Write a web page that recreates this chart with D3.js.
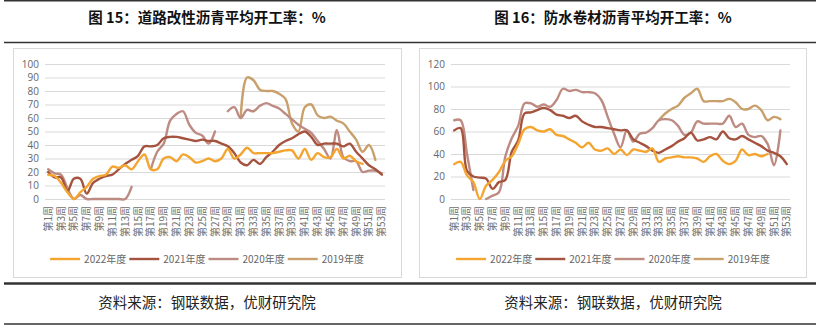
<!DOCTYPE html>
<html>
<head>
<meta charset="utf-8">
<script src="https://cdn.jsdelivr.net/npm/d3@7"></script>
<style>
  body { margin: 0; background: #fff; }
  svg text { font-family: "Noto Sans CJK SC", "Noto Sans", sans-serif; }
</style>
</head>
<body>
<div id="chart"></div>
<script>
// ---------------- Data ---------------- //

const weeks = d3.range(1, 54).map(i => "第" + i + "周");
const seriesNames = ["2022年度", "2021年度", "2020年度", "2019年度"];
const seriesColors = ["#F3A530", "#A5533F", "#BD8B82", "#C9A06B"];

// Fig. 15: road modified asphalt operating rate (%)
const road2022 = [18, 17, 12, 5, 0, 5, 9, 15, 17, 18, 24, 23, 25, 22, 28, 33, 22, 22, 30, 31,
  28, 33, 31, 27, 28, 30, 28, 30, 37, 30, 33, 38, 34, 34, 34, 34, 35, 36, 36, 30,
  37, 29, 34, 31, 31, 37, 30, 32, 28, 26, null, null, null];
const road2021 = [20, 16, 16, 6, 15, 15, 4, 12, 15, 17, 18, 22, 26, 29, 32, 39, 39, 40, 45, 46,
  46, 45, 44, 43, 44, 43, 43, 41, 39, 34, 27, 25, 29, 26, 31, 35, 40, 43, 45, 48,
  50, 46, 40, 41, 41, 41, 39, 41, 35, 30, 25, 22, 18];
const road2020 = [22, 19, 18, 8, 0, 3, 0, 0, 0, 0, 0, 0, 0, 9, null, null, 22, 35, 41, 58,
  63, 65, 55, 49, 47, 41, 50, null, 65, 68, 60, 66, 65, 69, 71, 69, 67, 63, 59, 55,
  52, 49, 43, 37, 30, 51, 31, 28, 28, 20, 21, 21, 19];
const road2019 = [null, null, null, null, null, null, null, null, null, null, null, null, null, null, null, null, null, null, null, null,
  null, null, null, null, null, null, null, null, null, null, 60, 90, 88, 81, 80, 80, 78, 74, 56, 50,
  68, 70, 62, 60, 61, 58, 56, 50, 44, 35, 40, 29, null];
const roadTicks = [0, 10, 20, 30, 40, 50, 60, 70, 80, 90, 100];

// Fig. 16: waterproofing membrane asphalt operating rate (%)
const water2022 = [31, 33, 21, 15, 0, 12, 17, 24, 34, 38, 49, 62, 64, 61, 60, 62, 57, 56, 53, 50,
  46, 50, 44, 43, 45, 40, 44, 39, 44, 43, 42, 45, 33, 36, 37, 38, 37, 37, 36, 33,
  38, 40, 34, 31, 34, 44, 39, 40, 38, 40, null, null, null];
const water2021 = [61, 63, 25, 20, 19, 18, 9, 15, 17, 42, 52, 76, 77, 79, 81, 79, 75, 74, 72, 74,
  69, 66, 64, 64, 63, 62, 61, 61, 53, 50, 47, 43, 41, 44, 47, 51, 54, 59, 52, 53,
  55, 53, 60, 54, 53, 56, 53, 50, 47, 43, 41, 38, 31];
const water2020 = [70, 70, 40, 8, null, 0, 3, 6, 38, 54, 65, 85, 85, 82, 84, 82, 88, 98, 96, 97,
  95, 95, 94, 88, 73, 58, 46, 61, 51, 58, 59, 63, 70, 71, 70, 65, 57, 59, 69, 67,
  67, 67, 67, 74, 64, 67, 57, 55, 56, 49, 30, 61, null];
const water2019 = [null, null, null, null, null, null, null, null, null, null, null, null, null, null, null, null, null, null, null, null,
  null, null, null, null, null, null, null, null, null, null, null, null, 70, 76, 80, 83, 90, 94, 98, 87,
  87, 87, 87, 89, 86, 80, 80, 83, 79, 70, 73, 71, null];
const waterTicks = [0, 20, 40, 60, 80, 100, 120];

const sourceText = "资料来源：钢联数据，优财研究院";

// ---------------- Layout ---------------- //

const width = 824, height = 325;

const panels = [
  {
    title: "图 15：道路改性沥青平均开工率：%",
    center: 207,
    box: [13, 48, 401, 277],
    xRange: [45, 385],
    ticks: roadTicks,
    series: [road2022, road2021, road2020, road2019]
  },
  {
    title: "图 16：防水卷材沥青平均开工率：%",
    center: 613,
    box: [419, 48, 806, 277],
    xRange: [451, 790],
    ticks: waterTicks,
    series: [water2022, water2021, water2020, water2019]
  }
];

const svg = d3.select("#chart").append("svg")
  .attr("width", width)
  .attr("height", height);

// Page rules round the figures
const rules = [
  { y: 0.75, w: 1.5 },
  { y: 42.5, w: 1.5 },
  { y: 283.5, w: 2.5 },
  { y: 324, w: 1.5 }
];
svg.selectAll("line.rule")
  .data(rules)
  .enter()
  .append("line")
  .attr("class", "rule")
  .attr("x1", 4)
  .attr("x2", 816)
  .attr("y1", d => d.y)
  .attr("y2", d => d.y)
  .attr("stroke", "#333")
  .attr("stroke-width", d => d.w);

panels.forEach(drawPanel);

// ---------------- Function definitions ---------------- //

function drawPanel(p) {
  const g = svg.append("g");

  // Figure title
  g.append("text")
    .attr("x", p.center)
    .attr("y", 23)
    .attr("text-anchor", "middle")
    .attr("font-size", "14.5px")
    .attr("font-weight", 700)
    .attr("fill", "#111")
    .text(p.title);

  // Chart frame
  g.append("rect")
    .attr("x", p.box[0] + 0.5)
    .attr("y", p.box[1] + 0.5)
    .attr("width", p.box[2] - p.box[0])
    .attr("height", p.box[3] - p.box[1])
    .attr("fill", "none")
    .attr("stroke", "#d9d9d9");

  const x = d3.scaleBand()
    .domain(weeks)
    .range(p.xRange);

  const y = d3.scaleLinear()
    .domain([0, p.ticks[p.ticks.length - 1]])
    .range([199, 64]);

  // Gridlines
  g.append("g")
    .attr("class", "grid")
    .attr("transform", "translate(" + p.xRange[0] + ",0)")
    .call(d3.axisLeft(y).tickValues(p.ticks).tickSize(-(p.xRange[1] - p.xRange[0])).tickFormat(""))
    .call(a => a.select(".domain").remove())
    .call(a => a.selectAll("line").attr("stroke", "#d9d9d9").attr("stroke-width", 1));

  // Y tick labels
  g.append("g")
    .attr("transform", "translate(" + (p.xRange[0] - 1) + ",0)")
    .call(d3.axisLeft(y).tickValues(p.ticks).tickSize(0).tickPadding(5))
    .call(a => a.select(".domain").remove())
    .call(a => a.selectAll("text")
      .attr("fill", "#666")
      .attr("font-size", "10px")
      .style("font-family", "'Open Sans', 'Noto Sans', sans-serif"));

  // X tick labels, every other week, rotated
  g.append("g")
    .selectAll("text")
    .data(weeks.filter((d, i) => i % 2 === 0))
    .enter()
    .append("text")
    .attr("transform", d => "translate(" + (x(d) + x.bandwidth() / 2) + ",206) rotate(-90)")
    .attr("text-anchor", "end")
    .attr("dy", "0.35em")
    .attr("font-size", "10px")
    .attr("fill", "#707070")
    .text(d => d);

  // Series lines (gaps where no value)
  const line = d3.line()
    .defined(d => d.v !== null)
    .x(d => x(d.w) + x.bandwidth() / 2)
    .y(d => y(d.v))
    .curve(d3.curveCatmullRom.alpha(0.5));

  // Draw older years first so 2022 sits on top
  const order = [3, 2, 1, 0];
  order.forEach(k => {
    const pts = p.series[k].map((v, i) => ({ w: weeks[i], v: v }));
    g.append("path")
      .datum(pts)
      .attr("fill", "none")
      .attr("stroke", seriesColors[k])
      .attr("stroke-width", 2.4)
      .attr("stroke-linejoin", "round")
      .attr("stroke-linecap", "round")
      .attr("d", line);
  });

  // Legend, centered under the plot
  const legend = g.append("g");
  let cx = 0;
  seriesNames.forEach((name, k) => {
    legend.append("line")
      .attr("x1", cx)
      .attr("x2", cx + 30)
      .attr("y1", 0)
      .attr("y2", 0)
      .attr("stroke", seriesColors[k])
      .attr("stroke-width", 2.4);
    const t = legend.append("text")
      .attr("x", cx + 34)
      .attr("y", 0)
      .attr("dy", "0.35em")
      .attr("font-size", "10px")
      .attr("fill", "#666")
      .text(name);
    cx += 34 + t.node().getComputedTextLength() + 3;
  });
  legend.attr("transform", "translate(" + (p.center - (cx - 3) / 2) + ",259)");

  // Source line
  g.append("text")
    .attr("x", p.center)
    .attr("y", 303)
    .attr("dy", "0.35em")
    .attr("text-anchor", "middle")
    .attr("font-size", "14.5px")
    .attr("fill", "#222")
    .text(sourceText);
}
</script>
</body>
</html>
